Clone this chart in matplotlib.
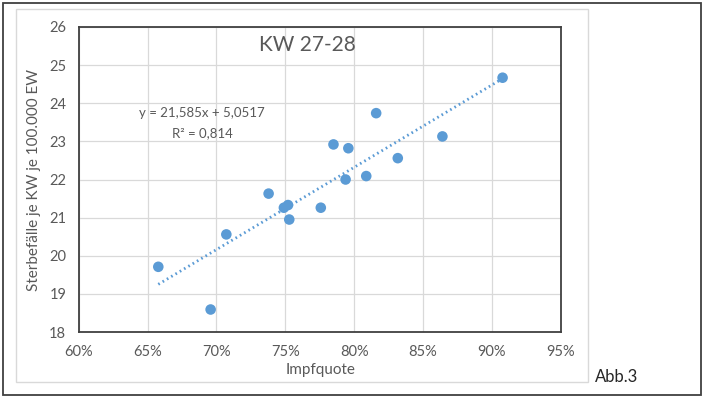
import numpy as np
from matplotlib import pyplot as plt
from matplotlib.patches import Rectangle
from matplotlib.ticker import FuncFormatter

plt.rcParams['font.family'] = ['Lato', 'DejaVu Sans']

# Impfquote (fraction) and Sterbefaelle je KW je 100.000 EW
impfquote = [0.6578, 0.6958, 0.7072, 0.7379, 0.7490, 0.7520, 0.7529, 0.7758,
             0.7850, 0.7958, 0.7938, 0.8088, 0.8160, 0.8317, 0.8641, 0.9078]
sterbefaelle = [19.71, 18.59, 20.56, 21.63, 21.26, 21.33, 20.95, 21.26,
                22.92, 22.82, 22.00, 22.09, 23.74, 22.56, 23.13, 24.67]

slope = 21.585
intercept = 5.0517
r2 = 0.814

x_ticks = [0.60, 0.65, 0.70, 0.75, 0.80, 0.85, 0.90, 0.95]
y_ticks = [18, 19, 20, 21, 22, 23, 24, 25, 26]

blue = '#5b9bd5'
grey_txt = '#595959'

fig = plt.figure(figsize=(7.06, 3.98), dpi=100)
W, H = 706.0, 398.0

# outer frame and chart area frame
fig.patches.append(Rectangle((3 / W, 1 - 395 / H), 698 / W, 392 / H,
                             transform=fig.transFigure, fill=False,
                             edgecolor='#404040', linewidth=1.3))
fig.patches.append(Rectangle((16 / W, 1 - 382 / H), 572 / W, 373 / H,
                             transform=fig.transFigure, fill=False,
                             edgecolor='#d9d9d9', linewidth=1.0))

ax = fig.add_axes([78.7 / W, 1 - 332 / H, 482 / W, 305 / H])
ax.set_xlim(0.60, 0.95)
ax.set_ylim(18, 26)
ax.set_xticks(x_ticks)
ax.set_yticks(y_ticks)
ax.xaxis.set_major_formatter(FuncFormatter(lambda v, p: '%d%%' % round(v * 100)))
ax.grid(True, color='#d9d9d9', linewidth=0.9)
ax.set_axisbelow(True)
for s in ax.spines.values():
    s.set_color('#404040')
    s.set_linewidth(1.3)
ax.tick_params(length=0, pad=9, labelsize=10.5, labelcolor=grey_txt)

# trendline
xs = np.array([min(impfquote), max(impfquote)])
ax.plot(xs, slope * xs + intercept, color=blue, linestyle=(0, (0.6, 1.2)),
        linewidth=2.0, zorder=2)

ax.scatter(impfquote, sterbefaelle, s=58, color=blue, edgecolors='none', zorder=3)

ax.text(0.474, 0.941, 'KW 27-28', transform=ax.transAxes, ha='center',
        va='center', fontsize=15, color=grey_txt)

# trendline label
fig.text(202 / W, 1 - 113 / H, 'y = %sx + %s' % (str(slope).replace('.', ','),
         str(intercept).replace('.', ',')), ha='center', va='center',
         fontsize=9.5, color=grey_txt)
fig.text(202 / W, 1 - 133 / H, 'R² = %s' % str(r2).replace('.', ','),
         ha='center', va='center', fontsize=9.5, color=grey_txt)

fig.text(321 / W, 1 - 370 / H, 'Impfquote', ha='center', va='center',
         fontsize=11, color=grey_txt)
fig.text(34 / W, 1 - 180 / H, 'Sterbefälle je KW je 100.000 EW', ha='center',
         va='center', rotation=90, fontsize=11, color=grey_txt)
fig.text(617 / W, 1 - 377 / H, 'Abb.3', ha='center', va='center',
         fontsize=12, color='#262626')

fig.savefig('out.png', dpi=100)
